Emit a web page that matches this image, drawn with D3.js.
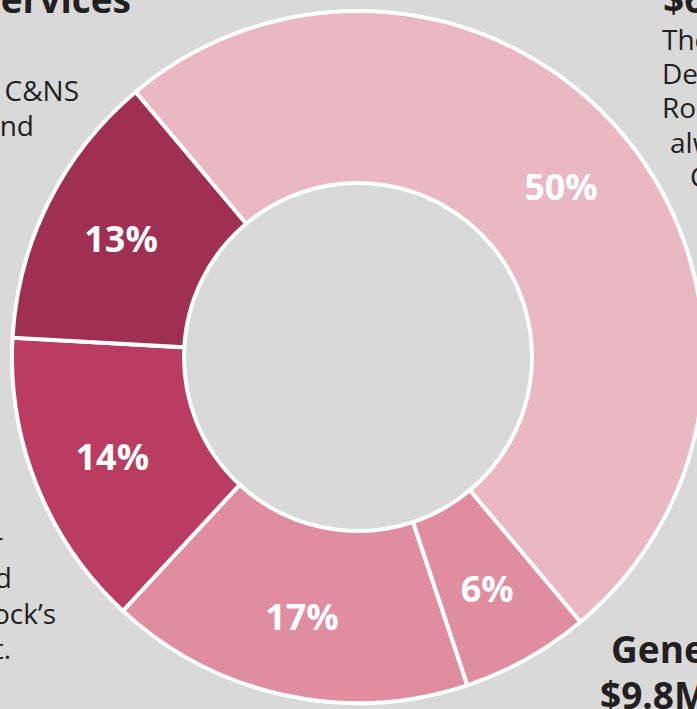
<!DOCTYPE html>
<html><head><meta charset="utf-8">
<script src="https://cdn.jsdelivr.net/npm/d3@7"></script>
<style>
html,body{margin:0;padding:0;background:#D9D9D9;overflow:hidden;}
svg{display:block;}
</style></head>
<body>
<svg id="chart" width="697" height="709"></svg>
<script>
const categories = ["Segment A", "Segment B", "Segment C", "Segment D", "Segment E"];
const values = [50, 6, 17, 14, 13];
const labels = ["50%", "6%", "17%", "14%", "13%"];
const colors = ["#E9B8C3", "#E08DA0", "#E08DA0", "#BB3C62", "#A03053"];

const W = 697, H = 709;
const cx = 358, cy = 357;
const outerR = 346, innerR = 174;
const startDeg = -40;

const svg = d3.select("#chart");
svg.append("rect").attr("width", W).attr("height", H).attr("fill", "#D9D9D9");

const pie = d3.pie().sort(null).value(d => d)
  .startAngle(startDeg * Math.PI / 180)
  .endAngle((startDeg + 360) * Math.PI / 180);
const arcs = pie(values);
const arc = d3.arc().innerRadius(innerR).outerRadius(outerR);
const labelArc = d3.arc().innerRadius(265).outerRadius(265);

const g = svg.append("g").attr("transform", `translate(${cx},${cy})`);
g.selectAll("path.slice").data(arcs).join("path")
  .attr("class", "slice")
  .attr("d", arc)
  .attr("fill", (d, i) => colors[i])
  .attr("stroke", "#FFFFFF")
  .attr("stroke-width", 4)
  .attr("stroke-linejoin", "miter");

g.selectAll("text.lbl").data(arcs).join("text")
  .attr("class", "lbl")
  .attr("transform", d => `translate(${labelArc.centroid(d)})`)
  .attr("text-anchor", "middle")
  .attr("dominant-baseline", "central")
  .attr("font-family", "'Open Sans', sans-serif")
  .attr("font-weight", 700)
  .attr("font-size", 36)
  .attr("fill", "#FFFFFF")
  .text((d, i) => labels[i]);

// Surrounding annotation text (partially cropped in the reference)
const ann = svg.append("g").attr("font-family", "'Open Sans', sans-serif").attr("fill", "#231F20");
ann.append("text").attr("x", 131).attr("y", 13).attr("text-anchor", "end")
  .attr("font-weight", 700).attr("font-size", 37).text("Services");
ann.append("text").attr("x", 79).attr("y", 101).attr("text-anchor", "end")
  .attr("font-size", 28).text("the C&NS");
ann.append("text").attr("x", 34).attr("y", 136).attr("text-anchor", "end")
  .attr("font-size", 28).text("and");

ann.append("text").attr("x", 663).attr("y", 13)
  .attr("font-weight", 700).attr("font-size", 37).text("$6.0M");
const rightLines = [["The", 662, 50], ["Department", 662, 84], ["Rock", 662, 118], ["always", 670, 153], ["C", 690, 187]];
rightLines.forEach(l => ann.append("text").attr("x", l[1]).attr("y", l[2]).attr("font-size", 28).text(l[0]));

const leftLines = [["for", 3, 553], ["and", 12, 588], ["Rock’s", 56, 624], ["it.", 11, 659]];
leftLines.forEach(l => ann.append("text").attr("x", l[1]).attr("y", l[2]).attr("text-anchor", "end").attr("font-size", 28).text(l[0]));

ann.append("text").attr("x", 611).attr("y", 663)
  .attr("font-weight", 700).attr("font-size", 37).text("General");
ann.append("text").attr("x", 600).attr("y", 709)
  .attr("font-weight", 700).attr("font-size", 37).text("$9.8M");
</script>
</body></html>
